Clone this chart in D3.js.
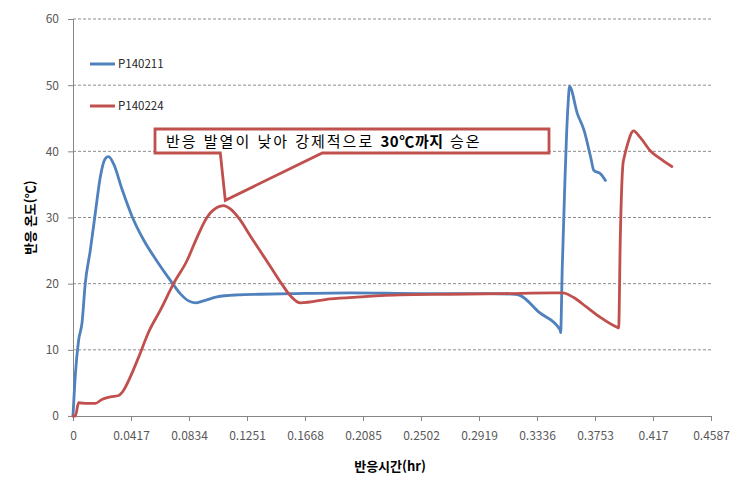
<!DOCTYPE html>
<html lang="ko">
<head>
<meta charset="UTF-8">
<title>반응 온도</title>
<script src="https://d3js.org/d3.v7.min.js"></script>
<style>
  body { margin: 0; background: #fff; }
  svg text { font-family: "Noto Sans CJK KR", "Noto Sans", sans-serif; }
</style>
</head>
<body>
<svg id="chart" width="746" height="493"></svg>
<script>
// x = 반응시간(hr), y = 반응 온도(℃)
const xTicks = [0, 0.0417, 0.0834, 0.1251, 0.1668, 0.2085, 0.2502, 0.2919, 0.3336, 0.3753, 0.417, 0.4587];
const yTicks = [0, 10, 20, 30, 40, 50, 60];
const seriesNames = ['P140211', 'P140224'];

const blueX = [0, 0.0017, 0.004, 0.0065, 0.0088, 0.0124, 0.016, 0.0196, 0.0232, 0.0256, 0.0292, 0.0352, 0.0424,
  0.0508, 0.0604, 0.070, 0.0771, 0.0831, 0.0879, 0.0939, 0.1035, 0.118, 0.1347, 0.16, 0.2, 0.25, 0.3, 0.318,
  0.3217, 0.335, 0.3503, 0.3506, 0.3517, 0.3536, 0.3548, 0.356, 0.357, 0.3626, 0.3674, 0.3722, 0.3745, 0.3792, 0.3828];
const blueY = [0, 6.3, 11.4, 14.1, 20, 25, 30.6, 36.1, 38.9, 39.2, 38.1, 34.3, 30.2,
  26.6, 23.4, 20.5, 18.5, 17.4, 17.1, 17.4, 18.0, 18.3, 18.4, 18.5, 18.6, 18.5, 18.5, 18.4,
  18.2, 15.7, 13.0, 12.6, 22, 35, 42.2, 47.3, 49.8, 45.7, 43.2, 39.1, 37.1, 36.6, 35.6];

const redX = [0, 0.0017, 0.004, 0.010, 0.016, 0.0208, 0.0268, 0.0328, 0.0364, 0.0412, 0.0472, 0.0544, 0.0628,
  0.0723, 0.082, 0.0892, 0.0963, 0.1035, 0.1083, 0.1131, 0.1203, 0.1275, 0.1347, 0.1419, 0.149, 0.1562, 0.1634,
  0.185, 0.2066, 0.2353, 0.2712, 0.31, 0.345, 0.352, 0.36, 0.3696, 0.3792, 0.3912, 0.3923,
  0.3935, 0.3954, 0.3963, 0.3987, 0.403, 0.4078, 0.415, 0.4222, 0.4306];
const redY = [0, 0, 2, 1.9, 1.9, 2.5, 2.9, 3.1, 3.9, 5.9, 8.9, 12.7, 16.0,
  20.0, 23.5, 27.0, 30.0, 31.5, 31.8, 31.3, 29.6, 27.2, 24.9, 22.6, 20.3, 18.2, 17.1,
  17.7, 18.0, 18.3, 18.4, 18.5, 18.6, 18.6, 17.9, 16.4, 14.9, 13.4, 13.3,
  27.0, 38.1, 39.1, 41.1, 43.1, 42.1, 40.1, 38.9, 37.7];

const colors = ['#4F81BD', '#C0504D'];

const svg = d3.select('#chart');
const margin = {left: 73, right: 35, top: 19, bottom: 77};
const W = 746, H = 493;

const x = d3.scaleLinear().domain([0, 0.4587]).range([margin.left, W - margin.right]);
const y = d3.scaleLinear().domain([0, 60]).range([H - margin.bottom, margin.top]);

// gridlines
svg.append('g')
  .selectAll('line')
  .data(yTicks.filter(d => d > 0))
  .enter().append('line')
  .attr('x1', x(0)).attr('x2', x(0.4587))
  .attr('y1', d => y(d)).attr('y2', d => y(d))
  .attr('stroke', '#8c8c8c')
  .attr('stroke-dasharray', '3,2')
  .attr('stroke-width', 1);

// axes
const xAxis = svg.append('g')
  .attr('transform', `translate(0,${y(0)})`)
  .call(d3.axisBottom(x).tickValues(xTicks).tickFormat(d => String(d)).tickSizeOuter(0).tickSize(5).tickPadding(10));
const yAxis = svg.append('g')
  .attr('transform', `translate(${x(0)},0)`)
  .call(d3.axisLeft(y).tickValues(yTicks).tickSizeOuter(0).tickSize(5).tickPadding(9));

[xAxis, yAxis].forEach(a => {
  a.select('.domain').attr('stroke', '#868686');
  a.selectAll('.tick line').attr('stroke', '#868686');
  a.selectAll('.tick text').attr('fill', '#595959').style('font-size', '12px');
});

// lines
const line = d3.line().x(d => x(d[0])).y(d => y(d[1])).curve(d3.curveMonotoneX);
const series = [d3.zip(blueX, blueY), d3.zip(redX, redY)];
series.forEach((s, i) => {
  svg.append('path')
    .datum(s)
    .attr('d', line)
    .attr('fill', 'none')
    .attr('stroke', colors[i])
    .attr('stroke-width', 2.8)
    .attr('stroke-linejoin', 'round')
    .attr('stroke-linecap', 'round');
});

// legend
seriesNames.forEach((name, i) => {
  const ly = 64 + i * 42;
  svg.append('line')
    .attr('x1', 90).attr('x2', 115).attr('y1', ly).attr('y2', ly)
    .attr('stroke', colors[i]).attr('stroke-width', 3);
  svg.append('text')
    .attr('x', 118).attr('y', ly + 4)
    .style('font-size', '11.5px')
    .attr('fill', '#262626')
    .text(name);
});

// callout pointing at the red peak
const tipX = x(0.1095), tipY = y(32.6);
const bx0 = 155, bx1 = 549, by0 = 129, by1 = 153;
svg.append('path')
  .attr('d', `M${bx0},${by0}H${bx1}V${by1}H${tipX + 97}L${tipX},${tipY}L${tipX - 5},${by1}H${bx0}Z`)
  .attr('fill', '#fff')
  .attr('stroke', '#C0504D')
  .attr('stroke-width', 2.8)
  .attr('stroke-linejoin', 'miter');

const callout = svg.append('text')
  .attr('x', 166).attr('y', 147)
  .style('font-size', '15px')
  .style('letter-spacing', '2px')
  .attr('fill', '#000');
callout.append('tspan').text('반응 발열이 낮아 강제적으로 ');
callout.append('tspan').style('font-weight', 'bold').style('letter-spacing', '0.6px').text('30℃까지');
callout.append('tspan').text(' 승온');

// axis titles
svg.append('text')
  .attr('x', 390).attr('y', 471)
  .attr('text-anchor', 'middle')
  .style('font-size', '13px')
  .style('font-weight', 'bold')
  .attr('fill', '#000')
  .text('반응시간(hr)');

svg.append('text')
  .attr('transform', `translate(35,${y(30)}) rotate(-90)`)
  .attr('text-anchor', 'middle')
  .style('font-size', '13px')
  .style('font-weight', 'bold')
  .attr('fill', '#000')
  .text('반응 온도(℃)');
</script>
</body>
</html>
